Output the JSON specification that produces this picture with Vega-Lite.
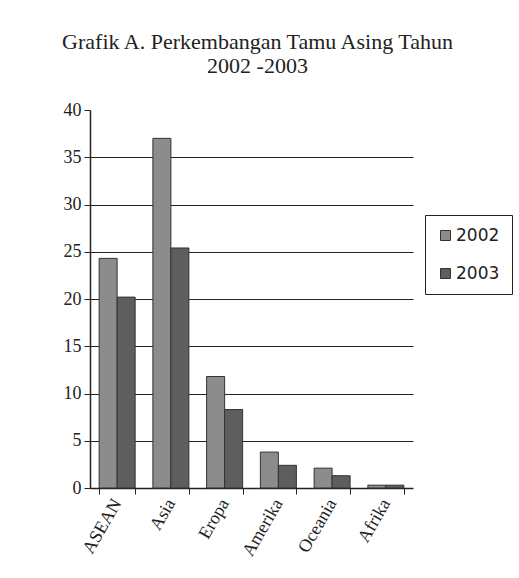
{
  "$schema": "https://vega.github.io/schema/vega-lite/v6.json",
  "width": 323,
  "height": 378,
  "autosize": {"type": "none"},
  "padding": {"left": 90, "top": 110, "right": 106, "bottom": 90},
  "background": "white",
  "title": {
    "text": ["Grafik A. Perkembangan Tamu Asing Tahun", "2002 -2003"],
    "font": "Liberation Serif",
    "fontSize": 22,
    "fontWeight": "normal",
    "color": "#222",
    "anchor": "middle",
    "dx": 6,
    "lineHeight": 24,
    "offset": 23
  },
  "config": {"view": {"stroke": null}},
  "data": {
    "values": [
      {"wilayah": "ASEAN", "tahun": "2002", "jumlah": 24.3},
      {"wilayah": "ASEAN", "tahun": "2003", "jumlah": 20.2},
      {"wilayah": "Asia", "tahun": "2002", "jumlah": 37.0},
      {"wilayah": "Asia", "tahun": "2003", "jumlah": 25.4},
      {"wilayah": "Eropa", "tahun": "2002", "jumlah": 11.8},
      {"wilayah": "Eropa", "tahun": "2003", "jumlah": 8.3},
      {"wilayah": "Amerika", "tahun": "2002", "jumlah": 3.8},
      {"wilayah": "Amerika", "tahun": "2003", "jumlah": 2.4},
      {"wilayah": "Oceania", "tahun": "2002", "jumlah": 2.1},
      {"wilayah": "Oceania", "tahun": "2003", "jumlah": 1.3},
      {"wilayah": "Afrika", "tahun": "2002", "jumlah": 0.3},
      {"wilayah": "Afrika", "tahun": "2003", "jumlah": 0.3}
    ]
  },
  "mark": {"type": "bar", "stroke": "#333", "strokeWidth": 1},
  "encoding": {
    "x": {
      "field": "wilayah",
      "type": "nominal",
      "sort": null,
      "title": null,
      "scale": {"paddingInner": 0.33, "paddingOuter": 0.17},
      "axis": {
        "labelAngle": -60,
        "labelFont": "Liberation Serif",
        "labelFontSize": 18,
        "labelColor": "#222",
        "labelAlign": "right",
        "labelBaseline": "middle",
        "labelPadding": 6,
        "tickBand": "extent",
        "tickColor": "#222",
        "tickSize": 6,
        "domainColor": "#222",
        "domainWidth": 1.5
      }
    },
    "xOffset": {"field": "tahun", "type": "nominal"},
    "y": {
      "field": "jumlah",
      "type": "quantitative",
      "title": null,
      "scale": {"domain": [0, 40]},
      "axis": {
        "values": [0, 5, 10, 15, 20, 25, 30, 35, 40],
        "labelFont": "Liberation Serif",
        "labelFontSize": 18,
        "labelColor": "#222",
        "labelPadding": 3,
        "tickColor": "#222",
        "tickSize": 6,
        "domainColor": "#222",
        "domainWidth": 1.5,
        "grid": true,
        "gridColor": "#222",
        "gridWidth": 1.2,
        "gridOpacity": {"condition": {"test": "datum.value == 40 || datum.value == 0", "value": 0}, "value": 1}
      }
    },
    "color": {
      "field": "tahun",
      "type": "nominal",
      "title": null,
      "scale": {"domain": ["2002", "2003"], "range": ["#8c8c8c", "#5e5e5e"]},
      "legend": {
        "orient": "none",
        "legendX": 335,
        "legendY": 105,
        "strokeColor": "#222",
        "fillColor": "white",
        "padding": 12,
        "rowPadding": 20,
        "symbolType": "square",
        "symbolSize": 100,
        "symbolStrokeColor": "#333",
        "symbolStrokeWidth": 1,
        "labelFont": "DejaVu Sans",
        "labelFontSize": 17,
        "labelColor": "#222",
        "labelOffset": 2
      }
    }
  }
}
